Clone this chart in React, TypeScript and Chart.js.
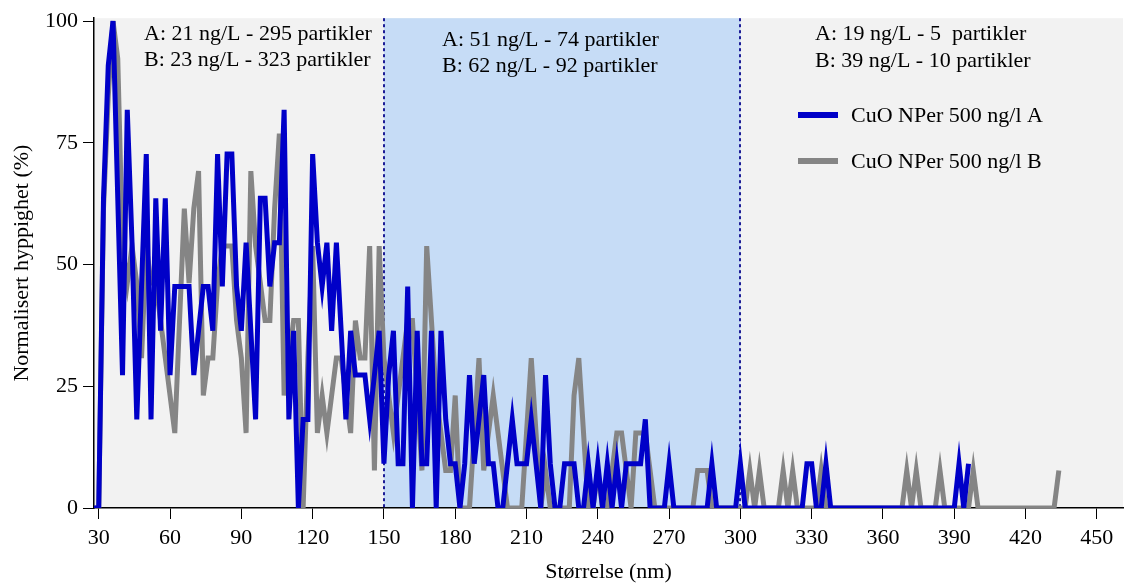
import React, { useEffect, useRef } from 'react';
import { Chart, registerables } from 'chart.js';

Chart.register(...registerables);

const FONT = '"Liberation Serif", "Times New Roman", serif';

// Particle size bins (nm)
const SIZES = [
  28, 30, 32, 34, 36, 38, 40, 42, 44, 46,
  48, 50, 52, 54, 56, 58, 60, 62, 64, 66,
  68, 70, 72, 74, 76, 78, 80, 82, 84, 86,
  88, 90, 92, 94, 96, 98, 100, 102, 104, 106,
  108, 110, 112, 114, 116, 118, 120, 122, 124, 126,
  128, 130, 132, 134, 136, 138, 140, 142, 144, 146,
  148, 150, 152, 154, 156, 158, 160, 162, 164, 166,
  168, 170, 172, 174, 176, 178, 180, 182, 184, 186,
  188, 190, 192, 194, 196, 198, 200, 202, 204, 206,
  208, 210, 212, 214, 216, 218, 220, 222, 224, 226,
  228, 230, 232, 234, 236, 238, 240, 242, 244, 246,
  248, 250, 252, 254, 256, 258, 260, 262, 264, 266,
  268, 270, 272, 274, 276, 278, 280, 282, 284, 286,
  288, 290, 292, 294, 296, 298, 300, 302, 304, 306,
  308, 310, 312, 314, 316, 318, 320, 322, 324, 326,
  328, 330, 332, 334, 336, 338, 340, 342, 344, 346,
  348, 350, 352, 354, 356, 358, 360, 362, 364, 366,
  368, 370, 372, 374, 376, 378, 380, 382, 384, 386,
  388, 390, 392, 394, 396, 398, 400, 402, 404, 406,
  408, 410, 412, 414, 416, 418, 420, 422, 424, 426,
  428, 430, 432, 434,
];

// Normalised frequency (%) – series A
const SERIES_A = [
  0, 0, 63.6, 90.9, 100, 63.6, 27.3, 81.8, 54.5, 18.2,
  45.5, 72.7, 18.2, 63.6, 36.4, 63.6, 27.3, 45.5, 45.5, 45.5,
  45.5, 27.3, 36.4, 45.5, 45.5, 36.4, 72.7, 45.5, 72.7, 72.7,
  45.5, 36.4, 54.5, 36.4, 18.2, 63.6, 63.6, 45.5, 54.5, 54.5,
  81.8, 18.2, 36.4, 0, 18.2, 18.2, 72.7, 54.5, 45.5, 54.5,
  36.4, 54.5, 36.4, 18.2, 36.4, 27.3, 27.3, 27.3, 18.2, 27.3,
  36.4, 9.1, 27.3, 36.4, 9.1, 9.1, 45.5, 0, 36.4, 9.1,
  9.1, 36.4, 0, 36.4, 18.2, 9.1, 9.1, 0, 9.1, 27.3,
  9.1, 18.2, 27.3, 9.1, 9.1, 0, 0, 9.1, 18.2, 9.1,
  9.1, 9.1, 18.2, 9.1, 0, 27.3, 9.1, 0, 0, 9.1,
  9.1, 9.1, 0, 0, 9.1, 0, 9.1, 0, 9.1, 0,
  9.1, 0, 9.1, 9.1, 9.1, 9.1, 18.2, 0, 0, 0,
  0, 9.1, 0, 0, 0, 0, 0, 0, 0, 0,
  9.1, 0, 0, 0, 0, 0, 9.1, 0, 0, 0,
  0, 0, 0, 0, 0, 0, 0, 0, 0, 0,
  9.1, 9.1, 0, 0, 9.1, 0, 0, 0, 0, 0,
  0, 0, 0, 0, 0, 0, 0, 0, 0, 0,
  0, 0, 0, 0, 0, 0, 0, 0, 0, 0,
  0, 0, 9.1, 0, 9.1,
];

// Normalised frequency (%) – series B
const SERIES_B = [
  0, 0, 61.5, 84.6, 100, 92.3, 53.8, 46.2, 53.8, 46.2,
  30.8, 53.8, 46.2, 46.2, 38.5, 30.8, 23.1, 15.4, 38.5, 61.5,
  46.2, 61.5, 69.2, 23.1, 30.8, 30.8, 46.2, 53.8, 53.8, 53.8,
  38.5, 30.8, 15.4, 69.2, 53.8, 46.2, 38.5, 38.5, 61.5, 76.9,
  23.1, 30.8, 38.5, 38.5, 0, 30.8, 53.8, 15.4, 23.1, 15.4,
  23.1, 30.8, 30.8, 23.1, 15.4, 38.5, 30.8, 30.8, 53.8, 7.7,
  53.8, 30.8, 23.1, 15.4, 23.1, 30.8, 38.5, 38.5, 23.1, 7.7,
  53.8, 38.5, 23.1, 15.4, 7.7, 7.7, 23.1, 0, 0, 0,
  15.4, 30.8, 7.7, 15.4, 23.1, 15.4, 7.7, 0, 0, 0,
  0, 15.4, 30.8, 15.4, 0, 7.7, 0, 0, 0, 0,
  0, 23.1, 30.8, 15.4, 0, 0, 7.7, 0, 0, 7.7,
  15.4, 15.4, 7.7, 0, 15.4, 15.4, 15.4, 7.7, 0, 0,
  0, 0, 0, 0, 0, 0, 0, 7.7, 7.7, 7.7,
  0, 0, 0, 0, 0, 0, 0, 0, 7.7, 0,
  7.7, 0, 0, 0, 0, 7.7, 0, 7.7, 0, 0,
  0, 0, 0, 7.7, 0, 0, 0, 0, 0, 0,
  0, 0, 0, 0, 0, 0, 0, 0, 0, 0,
  0, 7.7, 0, 7.7, 0, 0, 0, 0, 7.7, 0,
  0, 0, 0, 0, 0, 7.7, 0, 0, 0, 0,
  0, 0, 0, 0, 0, 0, 0, 0, 0, 0,
  0, 0, 0, 7.7,
];

const SERIES_LABELS = ['CuO NPer 500 ng/l A', 'CuO NPer 500 ng/l B'];
const X_TICKS = [30, 60, 90, 120, 150, 180, 210, 240, 270, 300, 330, 360, 390, 420, 450];
const Y_TICKS = [0, 25, 50, 75, 100];
const ZONE_BOUNDS = [150, 300];
const ZONE_TEXT_1 = ['A: 21 ng/L - 295 partikler', 'B: 23 ng/L - 323 partikler'];
const ZONE_TEXT_2 = ['A: 51 ng/L - 74 partikler', 'B: 62 ng/L - 92 partikler'];
const ZONE_TEXT_3 = ['A: 19 ng/L - 5  partikler', 'B: 39 ng/L - 10 partikler'];

const COLOR_A = '#0000c8';
const COLOR_B = '#858585';

export default function App() {
  const ref = useRef<HTMLCanvasElement>(null);

  useEffect(() => {
    const canvas = ref.current;
    if (!canvas) return;

    const zonePlugin = {
      id: 'zones',
      beforeDraw(chart: any) {
        const { ctx, chartArea, scales } = chart;
        const { left, right, top, bottom } = chartArea;
        const x1 = scales.x.getPixelForValue(ZONE_BOUNDS[0]);
        const x2 = scales.x.getPixelForValue(ZONE_BOUNDS[1]);
        ctx.save();
        ctx.fillStyle = '#f2f2f2';
        ctx.fillRect(left, top, right - left, bottom - top);
        ctx.fillStyle = '#c6dcf6';
        ctx.fillRect(x1, top, x2 - x1, bottom - top);
        ctx.restore();
      },
      beforeDatasetsDraw(chart: any) {
        const { ctx, chartArea, scales } = chart;
        const { top, bottom } = chartArea;
        ctx.save();
        ctx.strokeStyle = '#1c1c96';
        ctx.lineWidth = 2;
        ctx.setLineDash([3, 3]);
        ZONE_BOUNDS.forEach((b) => {
          const px = Math.round(scales.x.getPixelForValue(b));
          ctx.beginPath();
          ctx.moveTo(px, top);
          ctx.lineTo(px, bottom);
          ctx.stroke();
        });
        ctx.restore();
      },
      afterDatasetsDraw(chart: any) {
        const { ctx } = chart;
        ctx.save();
        ctx.font = `22px ${FONT}`;
        ctx.fillStyle = '#000';
        ctx.textAlign = 'left';
        ctx.textBaseline = 'alphabetic';
        ctx.fillText(ZONE_TEXT_1[0], 144, 40);
        ctx.fillText(ZONE_TEXT_1[1], 144, 66);
        ctx.fillText(ZONE_TEXT_2[0], 442, 46);
        ctx.fillText(ZONE_TEXT_2[1], 442, 72);
        ctx.fillText(ZONE_TEXT_3[0], 815, 40);
        ctx.fillText(ZONE_TEXT_3[1], 815, 67);

        const colors = [COLOR_A, COLOR_B];
        const ys = [115, 161];
        SERIES_LABELS.forEach((lab, i) => {
          ctx.fillStyle = colors[i];
          ctx.fillRect(798, ys[i] - 3, 40, 6);
          ctx.fillStyle = '#000';
          ctx.fillText(lab, 851, ys[i] + 7);
        });
        ctx.restore();
      },
    };

    const font = { family: FONT, size: 22 };

    const chart = new Chart(canvas, {
      type: 'line',
      data: {
        datasets: [
          {
            label: SERIES_LABELS[0],
            data: SERIES_A.map((v, i) => ({ x: SIZES[i], y: v })),
            borderColor: COLOR_A,
            backgroundColor: COLOR_A,
            borderWidth: 5,
          },
          {
            label: SERIES_LABELS[1],
            data: SERIES_B.map((v, i) => ({ x: SIZES[i], y: v })),
            borderColor: COLOR_B,
            backgroundColor: COLOR_B,
            borderWidth: 5,
          },
        ],
      },
      options: {
        animation: false,
        responsive: false,
        maintainAspectRatio: false,
        layout: { padding: { top: 17, right: 3, left: 0, bottom: 0 } },
        plugins: { legend: { display: false }, tooltip: { enabled: false } },
        elements: {
          point: { radius: 0 },
          line: { tension: 0, borderJoinStyle: 'miter', borderCapStyle: 'butt' },
        },
        scales: {
          x: {
            type: 'linear',
            min: 28,
            max: 461,
            afterBuildTicks: (s: any) => {
              s.ticks = X_TICKS.map((v) => ({ value: v }));
            },
            afterFit: (s: any) => {
              s.height = 77;
            },
            ticks: { font, color: '#000', padding: 6, maxRotation: 0, autoSkip: false },
            grid: { drawOnChartArea: false, drawTicks: true, tickLength: 11, color: '#000', lineWidth: 1 },
            border: { display: true, color: '#000', width: 1.5 },
            title: { display: true, text: 'Størrelse (nm)', font, color: '#000', padding: { top: 0, bottom: 0 } },
          },
          y: {
            type: 'linear',
            min: 0,
            max: 100.6,
            afterBuildTicks: (s: any) => {
              s.ticks = Y_TICKS.map((v) => ({ value: v }));
            },
            afterFit: (s: any) => {
              s.width = 94;
            },
            ticks: { font, color: '#000', padding: 5 },
            grid: { drawOnChartArea: false, drawTicks: true, tickLength: 11, color: '#000', lineWidth: 1 },
            border: { display: true, color: '#000', width: 1.5 },
            title: {
              display: true,
              text: 'Normalisert hyppighet (%)',
              font,
              color: '#000',
              padding: { top: 9, bottom: 0 },
            },
          },
        },
      },
      plugins: [zonePlugin],
    } as any);

    return () => chart.destroy();
  }, []);

  return (
    <div style={{ position: 'absolute', left: 0, top: 0, width: 1126, height: 585 }}>
      <canvas ref={ref} width={1126} height={585} style={{ width: 1126, height: 585 }} />
    </div>
  );
}
